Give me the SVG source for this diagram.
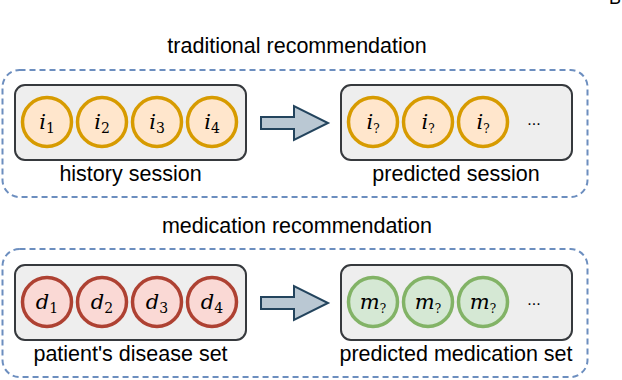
<svg xmlns="http://www.w3.org/2000/svg" width="622" height="380" viewBox="0 0 622 380">
<style>
.title{font-family:"Liberation Sans",Arial,sans-serif;font-size:21.5px;fill:#000;text-anchor:middle}
.label{font-family:"Liberation Sans",Arial,sans-serif;font-size:21.5px;fill:#000;text-anchor:middle}
.group{fill:none;stroke:#6c8ebf;stroke-width:2;stroke-dasharray:6 4}
.box{fill:#eeeeee;stroke:#36393d;stroke-width:2}
.ci{fill:#ffe6cc;stroke:#d79b00;stroke-width:3.5}
.cd{fill:#fad9d5;stroke:#ae4132;stroke-width:3.5}
.cm{fill:#d5e8d4;stroke:#82b366;stroke-width:3.5}
.math{font-family:"DejaVu Serif","Liberation Serif",serif;font-size:21px;font-style:italic;fill:#000;text-anchor:middle}
.sub{font-size:14px;font-style:normal}
.subq{font-size:12px;font-style:normal}
.dots{font-family:"Liberation Sans",Arial,sans-serif;font-size:16px;fill:#000;text-anchor:middle}
.arrow{fill:#bac8d3;stroke:#23445d;stroke-width:2;stroke-linejoin:miter}
</style>
<text x="615" y="4" font-family="Liberation Sans, Arial, sans-serif" font-size="18" text-anchor="middle">B</text>

<g id="traditional">
<text class="title" x="297" y="53">traditional recommendation</text>
<rect class="group" x="2.5" y="70" width="585" height="127" rx="17"/>
</g>
<g id="history-session">
<rect class="box" x="15" y="85" width="231" height="75" rx="10"/>
<circle class="ci" cx="47" cy="122" r="24.5"/><text class="math" x="47" y="129">i<tspan class="sub" dy="4">1</tspan></text>
<circle class="ci" cx="102" cy="122" r="24.5"/><text class="math" x="102" y="129">i<tspan class="sub" dy="4">2</tspan></text>
<circle class="ci" cx="157" cy="122" r="24.5"/><text class="math" x="157" y="129">i<tspan class="sub" dy="4">3</tspan></text>
<circle class="ci" cx="212" cy="122" r="24.5"/><text class="math" x="212" y="129">i<tspan class="sub" dy="4">4</tspan></text>
<text class="label" x="130.5" y="181">history session</text>
</g>
<g id="predicted-session">
<rect class="box" x="341" y="85" width="231" height="75" rx="10"/>
<circle class="ci" cx="373" cy="122" r="24.5"/><text class="math" x="373" y="129">i<tspan class="subq" dy="4">?</tspan></text>
<circle class="ci" cx="428" cy="122" r="24.5"/><text class="math" x="428" y="129">i<tspan class="subq" dy="4">?</tspan></text>
<circle class="ci" cx="483" cy="122" r="24.5"/><text class="math" x="483" y="129">i<tspan class="subq" dy="4">?</tspan></text>
<text class="dots" x="534" y="125">...</text>
<text class="label" x="456" y="181">predicted session</text>
</g>

<g id="medication">
<text class="title" x="297" y="233">medication recommendation</text>
<rect class="group" x="2.5" y="249" width="585" height="128" rx="17"/>
</g>
<g id="disease-set">
<rect class="box" x="15" y="265" width="231" height="75" rx="10"/>
<circle class="cd" cx="47" cy="302" r="24.5"/><text class="math" x="47" y="309">d<tspan class="sub" dy="4">1</tspan></text>
<circle class="cd" cx="102" cy="302" r="24.5"/><text class="math" x="102" y="309">d<tspan class="sub" dy="4">2</tspan></text>
<circle class="cd" cx="157" cy="302" r="24.5"/><text class="math" x="157" y="309">d<tspan class="sub" dy="4">3</tspan></text>
<circle class="cd" cx="212" cy="302" r="24.5"/><text class="math" x="212" y="309">d<tspan class="sub" dy="4">4</tspan></text>
<text class="label" x="130.5" y="361">patient's disease set</text>
</g>
<g id="medication-set">
<rect class="box" x="341" y="265" width="231" height="75" rx="10"/>
<circle class="cm" cx="373" cy="302" r="24.5"/><text class="math" x="373" y="309">m<tspan class="subq" dy="4">?</tspan></text>
<circle class="cm" cx="428" cy="302" r="24.5"/><text class="math" x="428" y="309">m<tspan class="subq" dy="4">?</tspan></text>
<circle class="cm" cx="483" cy="302" r="24.5"/><text class="math" x="483" y="309">m<tspan class="subq" dy="4">?</tspan></text>
<text class="dots" x="534" y="305">...</text>
<text class="label" x="456" y="361">predicted medication set</text>
</g>

<g id="connectors">
<polygon class="arrow" points="261,117 294,117 294,106 328,123 294,140 294,129 261,129"/>
<polygon class="arrow" points="261,297 294,297 294,286 328,303 294,320 294,309 261,309"/>
</g>
</svg>
